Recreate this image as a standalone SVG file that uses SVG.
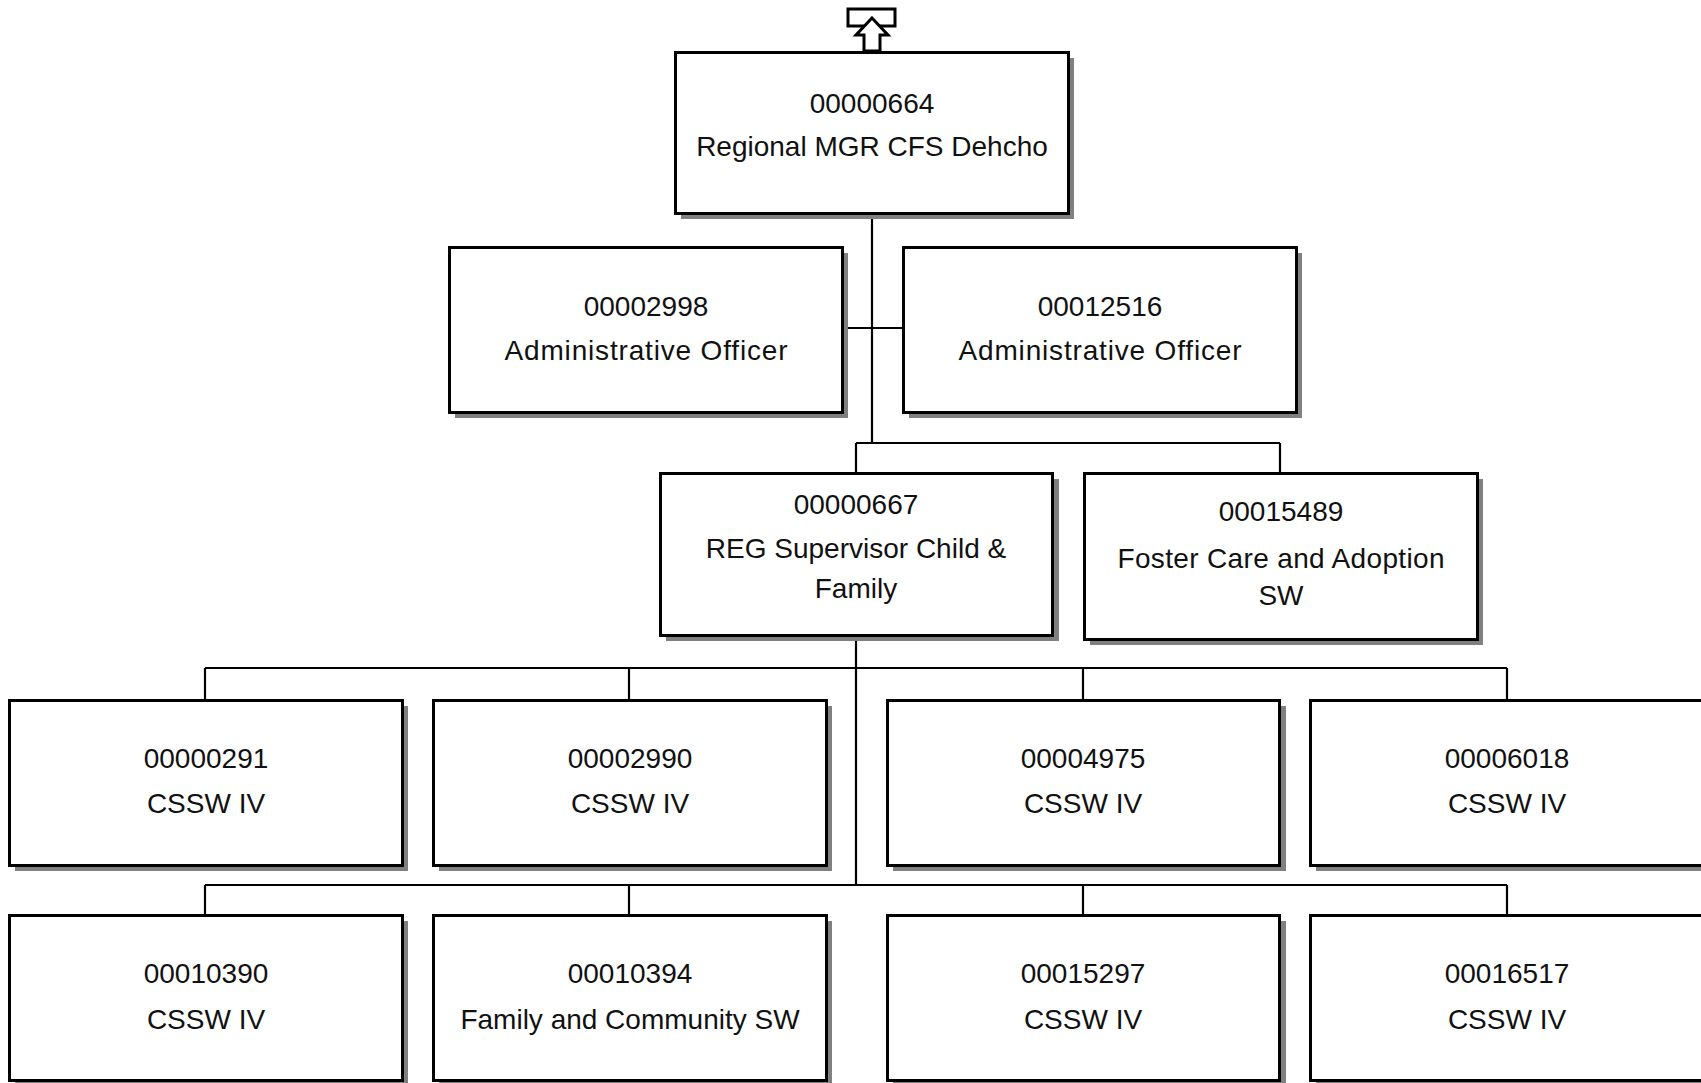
<svg xmlns="http://www.w3.org/2000/svg" width="1701" height="1083" viewBox="0 0 1701 1083">
<style>
.sh{fill:#808080}
.bx{fill:#fff;stroke:#000;stroke-width:3}
.t{font-family:"Liberation Sans",Arial,sans-serif;font-size:28px;fill:#111;text-anchor:middle}
.c{fill:none;stroke:#000;stroke-width:2.2}
</style>
<rect width="1701" height="1083" fill="#fff"/>
<g id="connectors">
<path class="c" d="M872 213V443M842 328H903M856 443H1280M856 443V473M1280 443V473M856 635V885M205 668H1507M205 668V700M629 668V700M1083 668V700M1507 668V700M205 885H1507M205 885V915M629 885V915M1083 885V915M1507 885V915"/>
</g>
<g id="up-arrow">
<rect x="848" y="9" width="47" height="17" fill="#fff" stroke="#000" stroke-width="3"/>
<path d="M872 18L888 35H880V51H864V35H856Z" fill="#fff" stroke="#000" stroke-width="3" stroke-linejoin="miter"/>
</g>
<g id="n00000664">
<rect class="sh" x="681" y="58" width="393" height="161"/>
<rect class="bx" x="675.5" y="52.5" width="393" height="161"/>
<text class="t" x="872" y="113">00000664</text>
<text class="t" x="872" y="156">Regional MGR CFS Dehcho</text>
</g>
<g id="n00002998">
<rect class="sh" x="455" y="253" width="393" height="165"/>
<rect class="bx" x="449.5" y="247.5" width="393" height="165"/>
<text class="t" x="646" y="316">00002998</text>
<text class="t" x="646" y="360" textLength="283" lengthAdjust="spacing">Administrative Officer</text>
</g>
<g id="n00012516">
<rect class="sh" x="909" y="253" width="393" height="165"/>
<rect class="bx" x="903.5" y="247.5" width="393" height="165"/>
<text class="t" x="1100" y="316">00012516</text>
<text class="t" x="1100" y="360" textLength="283" lengthAdjust="spacing">Administrative Officer</text>
</g>
<g id="n00000667">
<rect class="sh" x="666" y="479" width="393" height="162"/>
<rect class="bx" x="660.5" y="473.5" width="392" height="162"/>
<text class="t" x="856" y="514">00000667</text>
<text class="t" x="856" y="558">REG Supervisor Child &amp;</text>
<text class="t" x="856" y="598">Family</text>
</g>
<g id="n00015489">
<rect class="sh" x="1090" y="479" width="393" height="166"/>
<rect class="bx" x="1084.5" y="473.5" width="393" height="166"/>
<text class="t" x="1281" y="521">00015489</text>
<text class="t" x="1281" y="568" textLength="327" lengthAdjust="spacing">Foster Care and Adoption</text>
<text class="t" x="1281" y="605">SW</text>
</g>
<g id="n00000291">
<rect class="sh" x="15" y="706" width="393" height="165"/>
<rect class="bx" x="9.5" y="700.5" width="393" height="165"/>
<text class="t" x="206" y="768">00000291</text>
<text class="t" x="206" y="813">CSSW IV</text>
</g>
<g id="n00002990">
<rect class="sh" x="439" y="706" width="393" height="165"/>
<rect class="bx" x="433.5" y="700.5" width="393" height="165"/>
<text class="t" x="630" y="768">00002990</text>
<text class="t" x="630" y="813">CSSW IV</text>
</g>
<g id="n00004975">
<rect class="sh" x="893" y="706" width="393" height="165"/>
<rect class="bx" x="887.5" y="700.5" width="392" height="165"/>
<text class="t" x="1083" y="768">00004975</text>
<text class="t" x="1083" y="813">CSSW IV</text>
</g>
<g id="n00006018">
<rect class="sh" x="1316" y="706" width="393" height="165"/>
<rect class="bx" x="1310.5" y="700.5" width="393" height="165"/>
<text class="t" x="1507" y="768">00006018</text>
<text class="t" x="1507" y="813">CSSW IV</text>
</g>
<g id="n00010390">
<rect class="sh" x="15" y="921" width="393" height="165"/>
<rect class="bx" x="9.5" y="915.5" width="393" height="165"/>
<text class="t" x="206" y="983">00010390</text>
<text class="t" x="206" y="1029">CSSW IV</text>
</g>
<g id="n00010394">
<rect class="sh" x="439" y="921" width="393" height="165"/>
<rect class="bx" x="433.5" y="915.5" width="393" height="165"/>
<text class="t" x="630" y="983">00010394</text>
<text class="t" x="630" y="1029">Family and Community SW</text>
</g>
<g id="n00015297">
<rect class="sh" x="893" y="921" width="393" height="165"/>
<rect class="bx" x="887.5" y="915.5" width="392" height="165"/>
<text class="t" x="1083" y="983">00015297</text>
<text class="t" x="1083" y="1029">CSSW IV</text>
</g>
<g id="n00016517">
<rect class="sh" x="1316" y="921" width="393" height="165"/>
<rect class="bx" x="1310.5" y="915.5" width="393" height="165"/>
<text class="t" x="1507" y="983">00016517</text>
<text class="t" x="1507" y="1029">CSSW IV</text>
</g>
</svg>
